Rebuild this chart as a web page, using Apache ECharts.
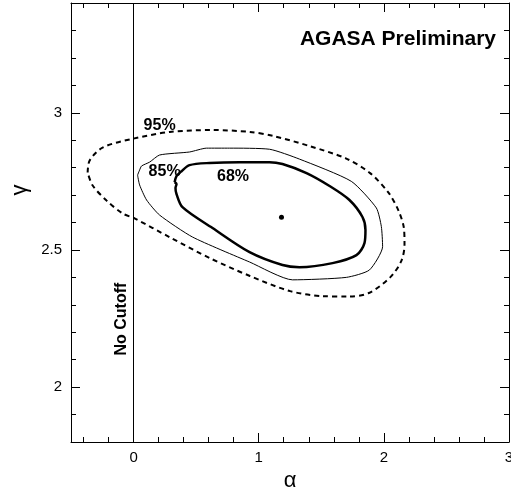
<!DOCTYPE html>
<html>
<head>
<meta charset="utf-8">
<script src="https://cdn.jsdelivr.net/npm/echarts@6/dist/echarts.min.js"></script>
<style>
html,body{margin:0;padding:0;background:#fff;}
#chart{width:511px;height:489px;}
</style>
</head>
<body>
<div id="chart"></div>
<script>
// ---- data ----
const xMajorTicks = [0, 1, 2, 3];
const xMinorTicks = [-0.4, -0.2, 0.2, 0.4, 0.6, 0.8, 1.2, 1.4, 1.6, 1.8, 2.2, 2.4, 2.6, 2.8];
const yMajorTicks = [2, 2.5, 3];
const yMinorTicks = [1.9, 2.1, 2.2, 2.3, 2.4, 2.6, 2.7, 2.8, 2.9, 3.1, 3.2, 3.3];

const contour95 = [[-0.367,2.782],[-0.351,2.826],[-0.248,2.873],[-0.018,2.904],[0.29,2.93],[0.63,2.937],[0.93,2.93],[1.12,2.915],[1.41,2.878],[1.70,2.833],[1.89,2.78],[2.04,2.707],[2.12,2.64],[2.16,2.58],[2.165,2.52],[2.14,2.46],[2.05,2.40],[1.88,2.343],[1.72,2.33],[1.50,2.332],[1.25,2.35],[0.93,2.405],[0.61,2.47],[0.29,2.546],[0.008,2.615],[-0.088,2.633],[-0.216,2.68],[-0.327,2.735],[-0.367,2.782]];

const contour85 = [[0.032,2.773],[0.048,2.791],[0.064,2.806],[0.128,2.820],[0.208,2.846],[0.447,2.857],[0.583,2.871],[0.767,2.871],[1.086,2.867],[1.326,2.831],[1.74,2.75],[1.94,2.653],[1.98,2.585],[1.99,2.512],[1.885,2.427],[1.70,2.40],[1.27,2.391],[0.927,2.456],[0.471,2.547],[0.208,2.627],[0.104,2.682],[0.048,2.737],[0.032,2.773]];

const contour68 = [[0.328,2.747],[0.343,2.769],[0.383,2.787],[0.447,2.809],[0.607,2.817],[0.847,2.82],[1.086,2.82],[1.19,2.813],[1.382,2.78],[1.566,2.733],[1.725,2.682],[1.829,2.62],[1.853,2.573],[1.845,2.525],[1.781,2.481],[1.59,2.452],[1.326,2.437],[1.19,2.445],[0.927,2.492],[0.631,2.58],[0.391,2.656],[0.343,2.704],[0.335,2.726],[0.343,2.74],[0.328,2.747]];

const bestFit = [[1.182, 2.619]];
const cutoffX = 0;

const labelTexts = ['95%', '85%', '68%'];
const labelPositions = [[0.208, 2.955], [0.248, 2.785], [0.795, 2.768]];
const cutoffLabel = 'No Cutoff';
const cutoffLabelPos = [-0.096, 2.248];
const titleText = 'AGASA Preliminary';

// ---- chart ----
const FONT = 'Liberation Sans, Arial, sans-serif';
const chart = echarts.init(document.getElementById('chart'));

function xAx(position, ticks, len, showLabel, showLine) {
  return {
    type: 'value', min: -0.5, max: 3, position: position,
    axisLine: { show: showLine, onZero: false, lineStyle: { color: '#000', width: 1 } },
    axisTick: { show: true, inside: true, length: len, customValues: ticks, lineStyle: { color: '#000', width: 1 } },
    axisLabel: { show: showLabel, customValues: ticks, color: '#000', fontSize: 15, fontFamily: FONT, margin: 8 },
    splitLine: { show: false }
  };
}
function yAx(position, ticks, len, showLabel, showLine) {
  return {
    type: 'value', min: 1.8, max: 3.4, position: position,
    axisLine: { show: showLine, onZero: false, lineStyle: { color: '#000', width: 1 } },
    axisTick: { show: true, inside: true, length: len, customValues: ticks, lineStyle: { color: '#000', width: 1 } },
    axisLabel: { show: showLabel, customValues: ticks, color: '#000', fontSize: 15, fontFamily: FONT, margin: 9 },
    splitLine: { show: false }
  };
}

const xAxes = [
  xAx('bottom', xMajorTicks, 9, true, true),
  xAx('bottom', xMinorTicks, 5, false, false),
  xAx('top', xMajorTicks, 9, false, true),
  xAx('top', xMinorTicks, 5, false, false)
];
xAxes[0].name = 'α';
xAxes[0].nameLocation = 'middle';
xAxes[0].nameGap = 21;
xAxes[0].nameTextStyle = { fontSize: 22, color: '#000', fontFamily: FONT };

const yAxes = [
  yAx('left', yMajorTicks, 9, true, true),
  yAx('left', yMinorTicks, 5, false, false),
  yAx('right', yMajorTicks, 9, false, true),
  yAx('right', yMinorTicks, 5, false, false)
];

const option = {
  animation: false,
  backgroundColor: '#fff',
  grid: { left: 71, right: 2, top: 3, bottom: 47, containLabel: false, outerBoundsMode: 'none' },
  title: {
    text: titleText, right: 10, top: 24,
    textStyle: { fontSize: 21, fontWeight: 'bold', color: '#000', fontFamily: FONT }
  },
  graphic: [{
    type: 'text', x: 20, y: 190, rotation: Math.PI / 2,
    style: { text: 'γ', font: '22px ' + FONT, fill: '#000', textAlign: 'center', textVerticalAlign: 'middle' }
  }],
  xAxis: xAxes,
  yAxis: yAxes,
  series: [
    {
      type: 'line', name: '95%', data: contour95, showSymbol: false, smooth: 0.3,
      lineStyle: { color: '#000', width: 2, type: [5, 4] },
      markLine: {
        silent: true, symbol: 'none', label: { show: false },
        lineStyle: { color: '#000', width: 1, type: 'solid' },
        data: [{ xAxis: cutoffX }]
      }
    },
    {
      type: 'line', name: '85%', data: contour85, showSymbol: false, smooth: 0.2,
      lineStyle: { color: '#000', width: 1 }
    },
    {
      type: 'line', name: '68%', data: contour68, showSymbol: false, smooth: 0.3,
      lineStyle: { color: '#000', width: 2.5 }
    },
    {
      type: 'scatter', data: bestFit, symbolSize: 5, itemStyle: { color: '#000', opacity: 1 }
    },
    {
      type: 'scatter', symbolSize: 0, itemStyle: { color: '#000', opacity: 1 },
      data: labelTexts.map((t, i) => ({ name: t, value: labelPositions[i] })),
      label: { show: true, position: 'inside', formatter: p => p.name, color: '#000', fontSize: 16, fontWeight: 'bold', fontFamily: FONT }
    },
    {
      type: 'scatter', symbolSize: 0, itemStyle: { color: '#000', opacity: 1 },
      data: [{ name: cutoffLabel, value: cutoffLabelPos }],
      label: { show: true, position: 'inside', rotate: 90, formatter: p => p.name, color: '#000', fontSize: 16, fontWeight: 'bold', fontFamily: FONT }
    }
  ]
};
chart.setOption(option);
</script>
</body>
</html>
